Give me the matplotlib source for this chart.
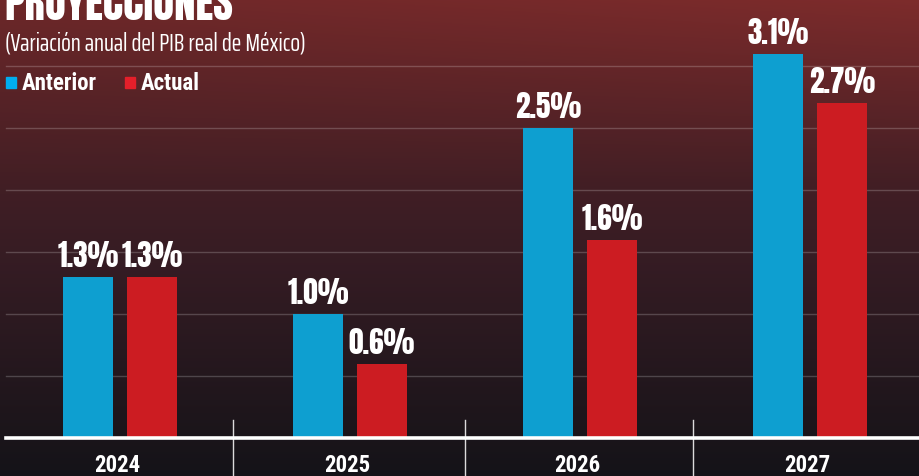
import numpy as np
import matplotlib
matplotlib.use("Agg")
import matplotlib.pyplot as plt

# data
years = ["2024", "2025", "2026", "2027"]
anterior = [1.3, 1.0, 2.5, 3.1]
actual = [1.3, 0.6, 1.6, 2.7]
grid_levels = [0.5, 1.0, 1.5, 2.0, 2.5, 3.0]

BLUE = "#0e9fd0"
RED = "#cc1c22"
LEG_BLUE = "#00aeef"
LEG_RED = "#e41f2a"
HEAVY = ["Anton", "League Gothic", "DejaVu Sans"]
COND = ["Roboto Condensed", "Barlow Condensed", "DejaVu Sans"]
XCOND = ["Saira ExtraCondensed", "Roboto Condensed", "DejaVu Sans"]

W, H = 919, 477
fig = plt.figure(figsize=(W / 100, H / 100), dpi=100)

# textured background approximated by a smooth gradient
bg = fig.add_axes([0, 0, 1, 1], zorder=0)
bg.set_axis_off()
yy = np.linspace(0, 1, 240)[:, None]
xx = np.linspace(0, 1, 460)[None, :]
top = np.array([0.37, 0.14, 0.15])
mid = np.array([0.21, 0.11, 0.14])
bot = np.array([0.08, 0.075, 0.095])
t1 = np.clip(yy / 0.55, 0, 1)[..., None]
t2 = np.clip((yy - 0.55) / 0.45, 0, 1)[..., None]
img = np.where(yy[..., None] < 0.55, top * (1 - t1) + mid * t1, mid * (1 - t2) + bot * t2)
warm = (np.clip(1 - yy / 0.4, 0, 1) * (0.5 + 0.5 * xx))[..., None]
img = img + warm * np.array([0.12, 0.03, 0.02])
bg.imshow(np.clip(img, 0, 1), aspect="auto", extent=[0, 1, 0, 1], origin="upper")
bg.set_xlim(0, 1)
bg.set_ylim(0, 1)

# chart axes: baseline 439 px from top, 124 px per percentage point
base_px = 439
ppu = 124.0
ax = fig.add_axes([0, (H - base_px) / H, 1, base_px / H], zorder=1)
ax.patch.set_alpha(0)
ax.set_xlim(-120 / 230, (W - 120) / 230)
ax.set_ylim(0, base_px / ppu)
ax.set_axis_off()

x = np.arange(len(years))
bw = 50 / 230
off = 32 / 230

x0 = 6 / 230 + ax.get_xlim()[0]
for g in grid_levels:
    ax.plot([x0, ax.get_xlim()[1]], [g, g], color="white", alpha=0.2, lw=1, zorder=1)

b1 = ax.bar(x - off, anterior, bw, color=BLUE, zorder=2)
b2 = ax.bar(x + off, actual, bw, color=RED, zorder=2)

for bars, vals in [(b1, anterior), (b2, actual)]:
    for rect, v in zip(bars, vals):
        ax.annotate(f"{v:.1f}%", (rect.get_x() + rect.get_width() / 2, v),
                    xytext=(0, 5), textcoords="offset points", ha="center", va="bottom",
                    fontsize=21, color="white", family=HEAVY, zorder=3)

# baseline and group separators
ax.plot([x0, ax.get_xlim()[1]], [0, 0], color="white", lw=2.6, zorder=3, clip_on=False)
for s in [0.49, 1.5, 2.49]:
    ax.plot([s, s], [18 / ppu, -40 / ppu], color="white", lw=1, alpha=0.85,
            zorder=3, clip_on=False)

for i, yr in enumerate(years):
    ax.text(i - 3 / 230, -27 / ppu, yr, ha="center", va="center", fontsize=16.5,
            fontweight="bold", color="white", family=COND, zorder=3)

# title, subtitle, legend
fig.text(4 / W, 1 - 20 / H, "PROYECCIONES", ha="left", va="baseline", fontsize=31,
         color="white", family=HEAVY, zorder=5)
fig.text(5 / W, 1 - 44 / H, "(Variación anual del PIB real de México)", ha="left",
         va="center", fontsize=18.5, color="white", family=XCOND, zorder=5)

for (lx, col, lab) in [(6, LEG_BLUE, "Anterior"), (125, LEG_RED, "Actual")]:
    fig.patches.append(plt.Rectangle((lx / W, 1 - 89 / H), 10 / W, 11 / H, color=col,
                                     transform=fig.transFigure, zorder=5))
    fig.text((lx + 16) / W, 1 - 84 / H, lab, ha="left", va="center", fontsize=16.5,
             fontweight="bold", color="white", family=COND, zorder=5)

fig.savefig("out.png", dpi=100)
